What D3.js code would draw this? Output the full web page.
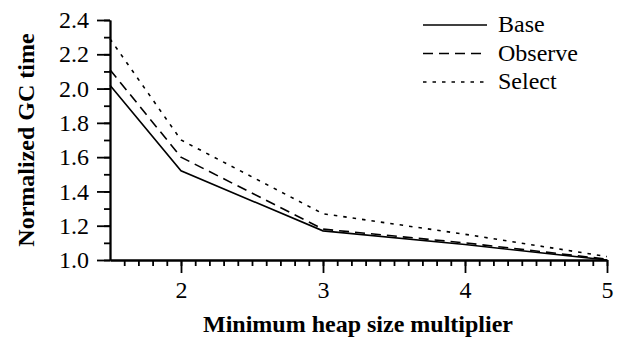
<!DOCTYPE html>
<html>
<head>
<meta charset="utf-8">
<script src="https://d3js.org/d3.v7.min.js"></script>
<style>
  body { margin: 0; background: #fff; }
  .axis path, .axis line { stroke: #000; stroke-width: 1.8; }
</style>
</head>
<body>
<svg id="chart" width="624" height="337"></svg>
<script>
// heap size multipliers
var multipliers = [1.5, 2, 3, 4, 5];
// normalized GC time per series
var baseValues    = [2.02, 1.52, 1.17, 1.09, 1.00];
var observeValues = [2.11, 1.60, 1.18, 1.10, 1.005];
var selectValues  = [2.29, 1.70, 1.27, 1.15, 1.02];
var seriesNames = ["Base", "Observe", "Select"];
var dashes = ["none", "10,6", "3.5,6"];
var xTicks = [2, 3, 4, 5];
var yTicks = [1.0, 1.2, 1.4, 1.6, 1.8, 2.0, 2.2, 2.4];

var serif = "'Liberation Serif'";

var margin = {top: 20, right: 17, bottom: 77, left: 110};
var svg = d3.select("#chart");
var width = 624 - margin.left - margin.right;
var height = 337 - margin.top - margin.bottom;

var x = d3.scaleLinear().domain([1.5, 5]).range([0, width]);
var y = d3.scaleLinear().domain([1.0, 2.4]).range([height, 0]);

var g = svg.append("g").attr("transform", "translate(" + margin.left + "," + margin.top + ")");

// minor ticks
var xMinor = d3.range(16, 51).map(function(d) { return d / 10; });
var yMinor = d3.range(10, 25).map(function(d) { return d / 10; });
g.append("g").attr("class", "axis")
  .attr("transform", "translate(0," + height + ")")
  .call(d3.axisBottom(x).tickValues(xMinor).tickSize(6).tickSizeOuter(0).tickFormat(""));
g.append("g").attr("class", "axis")
  .call(d3.axisLeft(y).tickValues(yMinor).tickSize(6).tickSizeOuter(0).tickFormat(""));

// major ticks
g.append("g").attr("class", "axis")
  .attr("transform", "translate(0," + height + ")")
  .call(d3.axisBottom(x).tickValues(xTicks).tickSize(13).tickSizeOuter(0).tickPadding(8).tickFormat(d3.format("d")));
g.append("g").attr("class", "axis")
  .call(d3.axisLeft(y).tickValues(yTicks).tickSize(13).tickSizeOuter(0).tickPadding(8).tickFormat(d3.format(".1f")));

g.selectAll(".axis").attr("font-family", null);
g.selectAll(".axis text")
  .style("font-family", serif)
  .style("font-size", "24px")
  .attr("fill", "#000");

// lines
var allSeries = [baseValues, observeValues, selectValues];
var line = d3.line()
  .x(function(d, i) { return x(multipliers[i]); })
  .y(function(d) { return y(d); });

allSeries.forEach(function(vals, i) {
  g.append("path")
    .attr("d", line(vals))
    .attr("fill", "none")
    .attr("stroke", "#000")
    .attr("stroke-width", 1.6)
    .attr("stroke-dasharray", dashes[i]);
});

// legend
var legend = svg.append("g").attr("transform", "translate(423,25)");
seriesNames.forEach(function(name, i) {
  legend.append("line")
    .attr("x1", 0).attr("x2", 64)
    .attr("y1", i * 28.5).attr("y2", i * 28.5)
    .attr("stroke", "#000")
    .attr("stroke-width", 1.6)
    .attr("stroke-dasharray", dashes[i]);
  legend.append("text")
    .attr("x", 75)
    .attr("y", i * 28.5 + 7)
    .style("font-family", serif)
    .style("font-size", "24px")
    .text(name);
});

// axis titles
svg.append("text")
  .attr("x", 358)
  .attr("y", 332)
  .attr("text-anchor", "middle")
  .style("font-family", serif)
  .style("font-weight", "bold")
  .style("font-size", "24px")
  .text("Minimum heap size multiplier");

svg.append("text")
  .attr("transform", "translate(34,140) rotate(-90)")
  .attr("text-anchor", "middle")
  .style("font-family", serif)
  .style("font-weight", "bold")
  .style("font-size", "24px")
  .text("Normalized GC time");
</script>
</body>
</html>
